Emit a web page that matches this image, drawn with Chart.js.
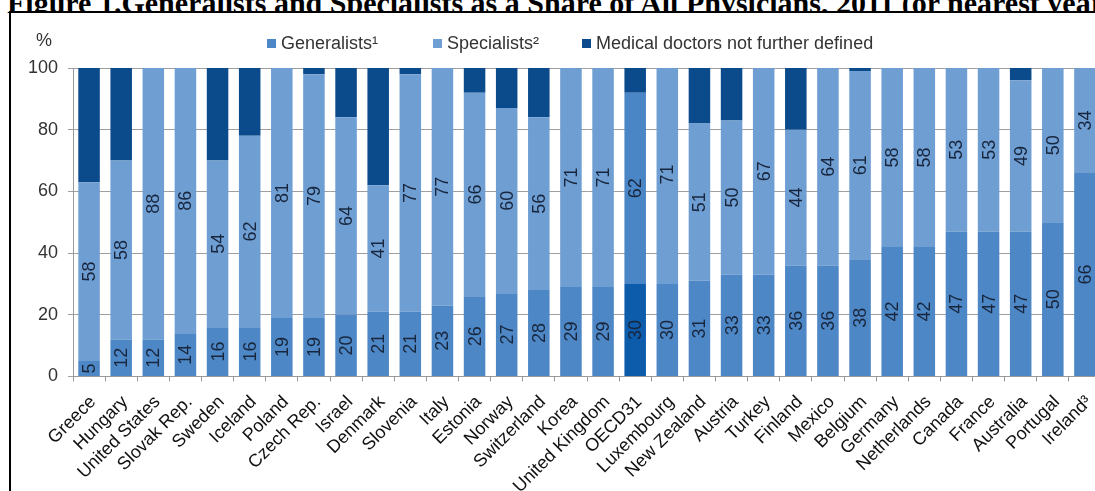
<!DOCTYPE html>
<html>
<head>
<meta charset="utf-8">
<script src="https://cdn.jsdelivr.net/npm/chart.js@4/dist/chart.umd.min.js"></script>
<style>
  html, body { margin: 0; padding: 0; background: #fff; overflow: hidden; width: 1095px; height: 491px; }
  #title {
    position: absolute; left: 7px; top: -12px; margin: 0;
    font: bold 30px/30px "Liberation Serif", "Times New Roman", serif;
    white-space: nowrap; color: #000;
  }
  #frame {
    position: absolute; left: 9px; top: 11px; width: 1200px; height: 600px;
    border-left: 2px solid #000; border-top: 2px solid #000; background: #fff;
  }
  #wrap { position: absolute; left: 0; top: 0; }
</style>
</head>
<body>
<h1 id="title">Figure 1.Generalists and Specialists as a Share of All Physicians, 2011 (or nearest year)</h1>
<div id="frame"></div>
<div id="wrap"><canvas id="chart" width="1120" height="491"></canvas></div>

<script>
// Countries, ordered by share of generalists
const categories = [
  'Greece', 'Hungary', 'United States', 'Slovak Rep.', 'Sweden', 'Iceland', 'Poland',
  'Czech Rep.', 'Israel', 'Denmark', 'Slovenia', 'Italy', 'Estonia', 'Norway',
  'Switzerland', 'Korea', 'United Kingdom', 'OECD31', 'Luxembourg', 'New Zealand',
  'Austria', 'Turkey', 'Finland', 'Mexico', 'Belgium', 'Germany', 'Netherlands',
  'Canada', 'France', 'Australia', 'Portugal', 'Ireland³'
];

// Shares of all physicians, %
const generalists = [5, 12, 12, 14, 16, 16, 19, 19, 20, 21, 21, 23, 26, 27, 28, 29, 29, 30, 30, 31, 33, 33, 36, 36, 38, 42, 42, 47, 47, 47, 50, 66];
const specialists = [58, 58, 88, 86, 54, 62, 81, 79, 64, 41, 77, 77, 66, 60, 56, 71, 71, 62, 71, 51, 50, 67, 44, 64, 61, 58, 58, 53, 53, 49, 50, 34];
const notDefined  = [37, 30, 0, 0, 30, 22, 0, 2, 16, 38, 2, 0, 8, 13, 16, 0, 0, 8, 0, 18, 17, 0, 20, 0, 1, 0, 0, 0, 0, 4, 0, 0];

const yTicks = [0, 20, 40, 60, 80, 100];

const seriesNames = ['Generalists¹', 'Specialists²', 'Medical doctors not further defined'];

const FONT = '"Liberation Sans", Arial, Helvetica, sans-serif';
const HIGHLIGHT = 'OECD31';

const palette = {
  gen:  '#4e87c5',
  spec: '#6f9ed3',
  nfd:  '#0b4a8b',
  genAvg:  '#0d5bab',
  specAvg: '#4a85c6'
};

function colourFor(normal, highlight) {
  return ctx => categories[ctx.dataIndex] === HIGHLIGHT ? highlight : normal;
}

// Rotated value labels centred in the generalist and specialist segments
const segmentLabels = {
  id: 'segmentLabels',
  afterDatasetsDraw(chart) {
    const ctx = chart.ctx;
    ctx.save();
    ctx.font = '18px ' + FONT;
    ctx.fillStyle = '#18263d';
    ctx.textAlign = 'center';
    ctx.textBaseline = 'middle';
    [0, 1].forEach(di => {
      const meta = chart.getDatasetMeta(di);
      const values = chart.data.datasets[di].data;
      meta.data.forEach((bar, i) => {
        const p = bar.getProps(['x', 'y', 'base'], true);
        const cy = (p.y + p.base) / 2;
        ctx.save();
        ctx.translate(p.x, cy);
        ctx.rotate(-Math.PI / 2);
        ctx.fillText(String(values[i]), 0, 1);
        ctx.restore();
      });
    });
    ctx.restore();
  }
};

// Legend row across the top and the unit marker above the value axis
const headerRow = {
  id: 'headerRow',
  afterDraw(chart) {
    const ctx = chart.ctx;
    const y = 44;
    const starts = [267, 433, 582];
    ctx.save();
    ctx.font = '18px ' + FONT;
    ctx.textBaseline = 'middle';
    ctx.textAlign = 'left';
    chart.data.datasets.forEach((ds, i) => {
      ctx.fillStyle = ds.swatch;
      ctx.fillRect(starts[i], y - 5, 9, 9);
      ctx.fillStyle = '#333';
      ctx.fillText(ds.label, starts[i] + 14, y);
    });
    ctx.fillStyle = '#333';
    ctx.fillText('%', 36, 41);
    ctx.restore();
  }
};

new Chart(document.getElementById('chart'), {
  type: 'bar',
  data: {
    labels: categories,
    datasets: [
      { label: seriesNames[0], data: generalists, swatch: palette.gen,
        backgroundColor: colourFor(palette.gen, palette.genAvg) },
      { label: seriesNames[1], data: specialists, swatch: palette.spec,
        backgroundColor: colourFor(palette.spec, palette.specAvg) },
      { label: seriesNames[2], data: notDefined, swatch: palette.nfd,
        backgroundColor: palette.nfd }
    ]
  },
  options: {
    responsive: false,
    animation: false,
    devicePixelRatio: 1,
    layout: { padding: { top: 68, right: 19, left: 0, bottom: 0 } },
    datasets: { bar: { barPercentage: 0.67, categoryPercentage: 1.0, borderWidth: 0 } },
    plugins: {
      legend: { display: false },
      tooltip: { enabled: false }
    },
    scales: {
      x: {
        stacked: true,
        afterFit: s => { s.height = 114.5; },
        grid: { display: true, offset: true, drawOnChartArea: false, drawTicks: true, tickLength: 5, color: '#9a9a9a' },
        border: { display: true, color: '#9a9a9a' },
        ticks: {
          autoSkip: false, minRotation: 45, maxRotation: 45, padding: 10, labelOffset: 4,
          color: '#111', font: { family: FONT, size: 18 }
        }
      },
      y: {
        stacked: true,
        min: 0, max: 100,
        afterFit: s => { s.width = 73; },
        afterBuildTicks: s => { s.ticks = yTicks.map(v => ({ value: v })); },
        grid: { color: '#9f9f9f', tickLength: 5, lineWidth: 1 },
        border: { display: true, color: '#9a9a9a' },
        ticks: { padding: 10, color: '#333', font: { family: FONT, size: 18 } }
      }
    }
  },
  plugins: [segmentLabels, headerRow]
});
</script>
</body>
</html>
